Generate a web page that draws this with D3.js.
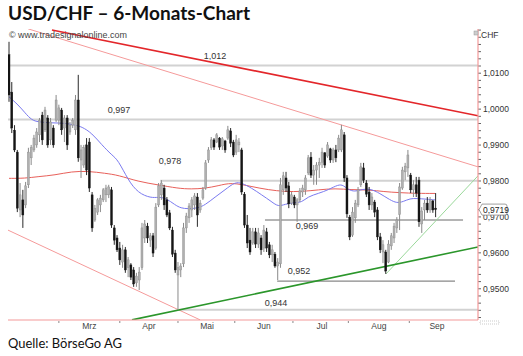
<!DOCTYPE html>
<html><head><meta charset="utf-8">
<script src="https://cdn.jsdelivr.net/npm/d3@7"></script>
<style>body{margin:0;background:#fff}svg{display:block}</style>
</head><body>
<svg id="c" width="523" height="356"></svg>
<script>
// ---------- data ----------
const opens=[1.0150,1.0046,0.9940,0.9879,0.9718,0.9746,0.9732,0.9788,0.9863,0.9885,0.9899,0.9927,0.9982,0.9941,0.9974,0.9913,0.9946,0.9968,0.9968,0.9996,0.9946,0.9974,0.9935,0.9954,0.9941,1.0024,0.9857,0.9843,0.9899,0.9907,0.9760,0.9690,0.9712,0.9732,0.9746,0.9760,0.9760,0.9774,0.9668,0.9640,0.9612,0.9573,0.9607,0.9557,0.9565,0.9551,0.9515,0.9523,0.9557,0.9640,0.9673,0.9634,0.9646,0.9612,0.9732,0.9760,0.9779,0.9746,0.9710,0.9662,0.9598,0.9537,0.9551,0.9568,0.9668,0.9696,0.9718,0.9732,0.9754,0.9718,0.9751,0.9779,0.9857,0.9891,0.9913,0.9907,0.9918,0.9896,0.9910,0.9918,0.9938,0.9907,0.9879,0.9899,0.9885,0.9762,0.9676,0.9634,0.9626,0.9657,0.9623,0.9640,0.9612,0.9657,0.9621,0.9593,0.9595,0.9562,0.9568,0.9774,0.9807,0.9785,0.9737,0.9754,0.9732,0.9746,0.9768,0.9774,0.9821,0.9865,0.9815,0.9829,0.9843,0.9851,0.9877,0.9868,0.9888,0.9857,0.9885,0.9885,0.9885,0.9927,0.9807,0.9698,0.9648,0.9696,0.9732,0.9788,0.9835,0.9793,0.9768,0.9732,0.9740,0.9718,0.9643,0.9601,0.9601,0.9573,0.9618,0.9640,0.9668,0.9705,0.9779,0.9824,0.9835,0.9815,0.9774,0.9788,0.9801,0.9679,0.9718,0.9737,0.9718,0.9743,0.9723];
const highs=[1.0186,1.0074,0.9954,0.9885,0.9793,0.9774,0.9796,0.9891,0.9899,0.9927,0.9946,0.9974,0.9991,1.0005,0.9982,0.9974,0.9954,1.0038,1.0011,1.0002,0.9982,0.9982,0.9963,0.9974,1.0038,1.0094,0.9899,0.9899,0.9918,0.9918,0.9768,0.9732,0.9751,0.9760,0.9779,0.9788,0.9788,0.9782,0.9676,0.9648,0.9629,0.9621,0.9615,0.9587,0.9570,0.9559,0.9543,0.9559,0.9682,0.9690,0.9682,0.9654,0.9654,0.9737,0.9793,0.9801,0.9788,0.9754,0.9718,0.9671,0.9607,0.9573,0.9570,0.9682,0.9710,0.9737,0.9754,0.9765,0.9765,0.9746,0.9782,0.9857,0.9893,0.9921,0.9918,0.9932,0.9921,0.9921,0.9913,0.9952,0.9946,0.9913,0.9927,0.9918,0.9891,0.9768,0.9704,0.9668,0.9668,0.9668,0.9668,0.9648,0.9676,0.9668,0.9629,0.9621,0.9601,0.9584,0.9807,0.9824,0.9824,0.9796,0.9768,0.9760,0.9751,0.9779,0.9788,0.9815,0.9871,0.9879,0.9843,0.9851,0.9863,0.9891,0.9879,0.9907,0.9891,0.9891,0.9899,0.9927,0.9955,0.9935,0.9815,0.9704,0.9726,0.9746,0.9782,0.9849,0.9849,0.9801,0.9782,0.9765,0.9746,0.9726,0.9654,0.9634,0.9607,0.9634,0.9654,0.9682,0.9698,0.9793,0.9838,0.9849,0.9885,0.9821,0.9801,0.9810,0.9810,0.9726,0.9746,0.9754,0.9754,0.9746,0.9765];
const lows=[1.0019,0.9932,0.9879,0.9712,0.9698,0.9668,0.9723,0.9779,0.9843,0.9879,0.9891,0.9907,0.9899,0.9935,0.9891,0.9899,0.9891,0.9963,0.9954,0.9927,0.9907,0.9885,0.9927,0.9946,0.9927,0.9852,0.9807,0.9835,0.9815,0.9768,0.9657,0.9685,0.9704,0.9712,0.9740,0.9740,0.9751,0.9668,0.9621,0.9601,0.9565,0.9557,0.9543,0.9531,0.9523,0.9504,0.9504,0.9495,0.9551,0.9626,0.9626,0.9615,0.9587,0.9607,0.9726,0.9746,0.9718,0.9698,0.9662,0.9587,0.9543,0.9440,0.9531,0.9559,0.9654,0.9682,0.9698,0.9718,0.9671,0.9710,0.9746,0.9774,0.9849,0.9885,0.9885,0.9904,0.9885,0.9885,0.9877,0.9913,0.9893,0.9865,0.9871,0.9879,0.9760,0.9668,0.9612,0.9593,0.9621,0.9612,0.9612,0.9593,0.9601,0.9601,0.9584,0.9573,0.9557,0.9523,0.9557,0.9760,0.9768,0.9723,0.9732,0.9723,0.9685,0.9740,0.9754,0.9760,0.9815,0.9807,0.9788,0.9788,0.9807,0.9835,0.9835,0.9863,0.9849,0.9849,0.9851,0.9879,0.9879,0.9796,0.9696,0.9634,0.9643,0.9682,0.9726,0.9782,0.9793,0.9754,0.9718,0.9718,0.9698,0.9634,0.9598,0.9570,0.9540,0.9570,0.9607,0.9626,0.9654,0.9662,0.9774,0.9801,0.9810,0.9765,0.9754,0.9754,0.9671,0.9654,0.9690,0.9710,0.9710,0.9710,0.9698];
const closes=[1.0038,0.9946,0.9885,0.9723,0.9760,0.9704,0.9785,0.9879,0.9891,0.9918,0.9935,0.9968,0.9913,0.9996,0.9899,0.9963,0.9899,1.0024,1.0002,0.9941,0.9974,0.9899,0.9954,0.9968,1.0024,0.9863,0.9885,0.9891,0.9829,0.9779,0.9668,0.9723,0.9746,0.9751,0.9774,0.9779,0.9782,0.9676,0.9634,0.9607,0.9579,0.9607,0.9551,0.9579,0.9531,0.9512,0.9534,0.9545,0.9668,0.9679,0.9640,0.9646,0.9598,0.9726,0.9785,0.9793,0.9732,0.9704,0.9668,0.9595,0.9551,0.9557,0.9562,0.9668,0.9701,0.9729,0.9746,0.9757,0.9704,0.9737,0.9774,0.9849,0.9885,0.9913,0.9893,0.9927,0.9893,0.9916,0.9885,0.9941,0.9904,0.9871,0.9913,0.9907,0.9768,0.9676,0.9626,0.9601,0.9657,0.9623,0.9654,0.9607,0.9662,0.9612,0.9593,0.9607,0.9562,0.9573,0.9788,0.9813,0.9779,0.9735,0.9760,0.9732,0.9746,0.9771,0.9779,0.9807,0.9863,0.9815,0.9829,0.9843,0.9851,0.9879,0.9843,0.9899,0.9857,0.9885,0.9863,0.9918,0.9941,0.9807,0.9707,0.9643,0.9712,0.9737,0.9774,0.9838,0.9801,0.9762,0.9732,0.9754,0.9712,0.9643,0.9607,0.9621,0.9548,0.9623,0.9646,0.9673,0.9690,0.9782,0.9829,0.9840,0.9871,0.9774,0.9788,0.9765,0.9685,0.9715,0.9737,0.9718,0.9746,0.9718,0.9719];

// moving averages sampled along the bars (bar index, value)
const maFastIdx=[0,3.4,5.8,8.2,10.5,15.4,20.2,23.8,26.2,29.9,33.5,37.1,39.4,43,46.6,51.3,53.8,56.7,59.9,62.1,64.6,68.2,70.8,74.4,78,81.6,84,87.6,91.2,94.8,97.2,99.6,103.2,105.7,107.9,111.7,115.3,118.9,120.7,122.5,124.9,126.7,130.3,133.9,137.5,140,142.3,144.8,147.2,150.8,153.8];
const maFastVal=[1.0033,1.0010,0.9988,0.9968,0.9963,0.9960,0.9960,0.9954,0.9950,0.9932,0.9899,0.9871,0.9857,0.9801,0.9765,0.9751,0.9754,0.9751,0.9732,0.9723,0.9721,0.9723,0.9732,0.9754,0.9774,0.9796,0.9793,0.9779,0.9760,0.9741,0.9727,0.9734,0.9739,0.9739,0.9755,0.9764,0.9774,0.9789,0.9787,0.9774,0.9769,0.9774,0.9778,0.9764,0.9746,0.9737,0.9741,0.9750,0.9750,0.9748,0.9746];
const maSlowIdx=[0,5.8,10.6,16.6,22.6,28.6,34.7,39.4,46.6,53.8,61,65.8,70.6,75.5,80.3,87.6,93.6,99.6,105.7,111.7,117.7,123.7,130.3,135.1,141.2,147.2,153.8];
const maSlowVal=[0.9806,0.9806,0.9811,0.9815,0.9825,0.9826,0.9820,0.9815,0.9797,0.9788,0.9778,0.9776,0.9778,0.9785,0.9795,0.9783,0.9774,0.9769,0.9769,0.9774,0.9778,0.9774,0.9774,0.9769,0.9766,0.9764,0.9764];

// support / resistance levels
const levelValues=[1.012,0.997,0.9799,0.969,0.952,0.944];
const levelLabels=["1,012","0,997","0,978","0,969","0,952","0,944"];
const levelFrom=[-0.4,-0.4,54.6,92.4,96.8,61.4];
const levelTo=[169.3,169.3,169.3,163.9,161,169.3];

// trend lines: [startIndex, startValue, endIndex, endValue]
const trendRedMain=[15.5,1.0219,169.3,0.9980];
const trendRedThin=[6.9,1.0222,169.3,0.9838];
const trendRedLow=[-0.4,0.9662,69,0.9412];
const trendGreen=[44.4,0.9412,169.3,0.9615];
const trendGreenLight=[136.1,0.9540,169.3,0.9813];

const monthLabels=["Mrz","Apr","Mai","Jun","Jul","Aug","Sep"];
const monthLabelIdx=[29,50.5,71.5,92,113,133.5,154.5];
const monthTickIdx=[18,40,61,81.5,102.5,122.5,144.5];
const yMajorTicks=[0.95,0.96,0.97,0.98,0.99,1.00,1.01];
const lastPrice=0.9719;

// ---------- drawing ----------
(function(){
const svg=d3.select("#c");
const FONT="'Liberation Sans', Arial, sans-serif";
const x=d3.scaleLinear().domain([0,169.3]).range([9,478]);
const y=d3.scaleLinear().domain([0.95,1.01]).range([288.28,72.7]);
const pL=8,pR=478,pT=29,pB=320;
const de=d3.formatLocale({decimal:",",thousands:".",grouping:[3],currency:["","€"]});
const f4=de.format(".4f");

svg.append("text").attr("x",8).attr("y",20).attr("font-family","Lato, 'Open Sans', sans-serif")
  .attr("font-weight","bold").attr("font-size",18).attr("fill","#111")
  .attr("textLength",242).attr("lengthAdjust","spacingAndGlyphs").text("USD/CHF – 6-Monats-Chart");
svg.append("text").attr("x",8).attr("y",348).attr("font-family","Lato, 'Open Sans', sans-serif")
  .attr("font-size",14).attr("fill","#111").attr("textLength",114).attr("lengthAdjust","spacingAndGlyphs")
  .text("Quelle: BörseGo AG");

const defs=svg.append("defs");
defs.append("clipPath").attr("id","plot").append("rect")
  .attr("x",pL).attr("y",pT).attr("width",pR-pL).attr("height",pB-pT);
const g=svg.append("g").attr("clip-path","url(#plot)");

const lightLevel=[true,true,true,false,false,true];
levelValues.forEach((v,k)=>{
  g.append("line").attr("x1",Math.max(pL,x(levelFrom[k]))).attr("x2",Math.min(pR,x(levelTo[k])))
   .attr("y1",y(v)).attr("y2",y(v))
   .attr("stroke",lightLevel[k]?"#d2d2d2":"#6a6a6a").attr("stroke-width",lightLevel[k]?2:1);
});
const levelLabelIdx=[74.4,39.7,58.1,107.6,104.7,96.4];
const levelLabelDy=[-6.5,-6,-16.5,8.5,-7,-4];
levelValues.forEach((v,k)=>{
  svg.append("text").attr("x",x(levelLabelIdx[k])).attr("y",y(v)+levelLabelDy[k])
    .attr("text-anchor","middle").attr("font-family",FONT).attr("font-size",9).attr("fill","#333")
    .text(levelLabels[k]);
});

function trend(t,color,w){
  g.append("line").attr("x1",x(t[0])).attr("y1",y(t[1])).attr("x2",x(t[2])).attr("y2",y(t[3]))
   .attr("stroke",color).attr("stroke-width",w);
}
trend(trendRedThin,"#f59a9a",1);
trend(trendRedLow,"#f59a9a",1);
trend(trendRedMain,"#e3262a",1.6);
trend(trendGreenLight,"#9ad89a",1);
trend(trendGreen,"#2b962b",1.6);

const lineGen=d3.line().x(d=>x(d[0])).y(d=>y(d[1])).curve(d3.curveBasis);
g.append("path").attr("d",lineGen(maSlowIdx.map((v,k)=>[v,maSlowVal[k]])))
  .attr("fill","none").attr("stroke","#e8605a").attr("stroke-width",1);
g.append("path").attr("d",lineGen(maFastIdx.map((v,k)=>[v,maFastVal[k]])))
  .attr("fill","none").attr("stroke","#7a7af0").attr("stroke-width",1);

const bars=opens.map((o,k)=>({i:k,o,h:highs[k],l:lows[k],c:closes[k]}));
const cg=g.append("g");
cg.selectAll("line.w").data(bars).join("line").attr("class","w")
  .attr("x1",d=>x(d.i)).attr("x2",d=>x(d.i)).attr("y1",d=>y(d.h)).attr("y2",d=>y(d.l))
  .attr("stroke",d=>d.c>=d.o?"#8a8a8a":"#2a2a2a").attr("stroke-width",1);
cg.selectAll("rect.b").data(bars).join("rect").attr("class","b")
  .attr("x",d=>x(d.i)-1).attr("width",2)
  .attr("y",d=>y(Math.max(d.o,d.c)))
  .attr("height",d=>Math.max(1,Math.abs(y(d.o)-y(d.c))))
  .attr("fill",d=>d.c>=d.o?"#b0b0b0":"#151515")
  .attr("stroke",d=>d.c>=d.o?"#8a8a8a":"#151515").attr("stroke-width",0.4);

svg.append("line").attr("x1",pL).attr("x2",pR).attr("y1",pB).attr("y2",pB)
  .attr("stroke","#f39a9a").attr("stroke-width",1.2);
const yAxis=d3.axisRight(y).tickValues(d3.range(0.942,1.0221,0.002)).tickSize(3).tickPadding(2)
  .tickFormat(v=>yMajorTicks.some(t=>Math.abs(t-v)<1e-6)?f4(v):"");
const ya=svg.append("g").attr("transform",`translate(${pR},0)`).call(yAxis);
ya.select(".domain").remove();
ya.selectAll(".tick line").attr("stroke","#666");
ya.selectAll(".tick text").attr("font-family",FONT).attr("font-size",8.5).attr("fill","#333");
svg.append("line").attr("x1",pR).attr("x2",pR).attr("y1",pT).attr("y2",pB)
  .attr("stroke","#f39a9a").attr("stroke-width",1.2);

monthTickIdx.forEach(t=>{
  svg.append("line").attr("x1",x(t)).attr("x2",x(t)).attr("y1",pB+1).attr("y2",pB+3)
    .attr("stroke","#888").attr("stroke-width",1);
});
monthLabels.forEach((m,k)=>{
  svg.append("text").attr("x",x(monthLabelIdx[k])).attr("y",329).attr("text-anchor","middle")
    .attr("font-family",FONT).attr("font-size",8.5).attr("fill","#444").text(m);
});

svg.append("text").attr("x",9).attr("y",37.5).attr("font-family",FONT).attr("font-size",8.5)
  .attr("fill","#444").attr("textLength",118).attr("lengthAdjust","spacingAndGlyphs")
  .text("© www.tradesignalonline.com");
svg.append("text").attr("x",481).attr("y",38).attr("font-family",FONT).attr("font-size",8.5)
  .attr("fill","#333").text("CHF");
svg.append("rect").attr("x",474).attr("y",31).attr("width",4).attr("height",4)
  .attr("fill","#ccc").attr("stroke","#999").attr("stroke-width",0.5);
svg.append("rect").attr("x",480).attr("y",321).attr("width",19).attr("height",3)
  .attr("fill","none").attr("stroke","#aaa").attr("stroke-width",0.6).attr("stroke-dasharray","1,1");

const py=y(lastPrice);
svg.append("path").attr("d",`M${pR+1},${py} L${pR+4},${py-5.5} L${pR+27},${py-5.5} Q${pR+29},${py-5.5} ${pR+29},${py-3.5} L${pR+29},${py+3.5} Q${pR+29},${py+5.5} ${pR+27},${py+5.5} L${pR+4},${py+5.5} Z`)
  .attr("fill","#fff").attr("stroke","#888").attr("stroke-width",0.8);
svg.append("text").attr("x",pR+5).attr("y",py+3).attr("font-family",FONT).attr("font-size",8.5)
  .attr("fill","#222").text(f4(lastPrice));
})();
</script>
</body></html>
